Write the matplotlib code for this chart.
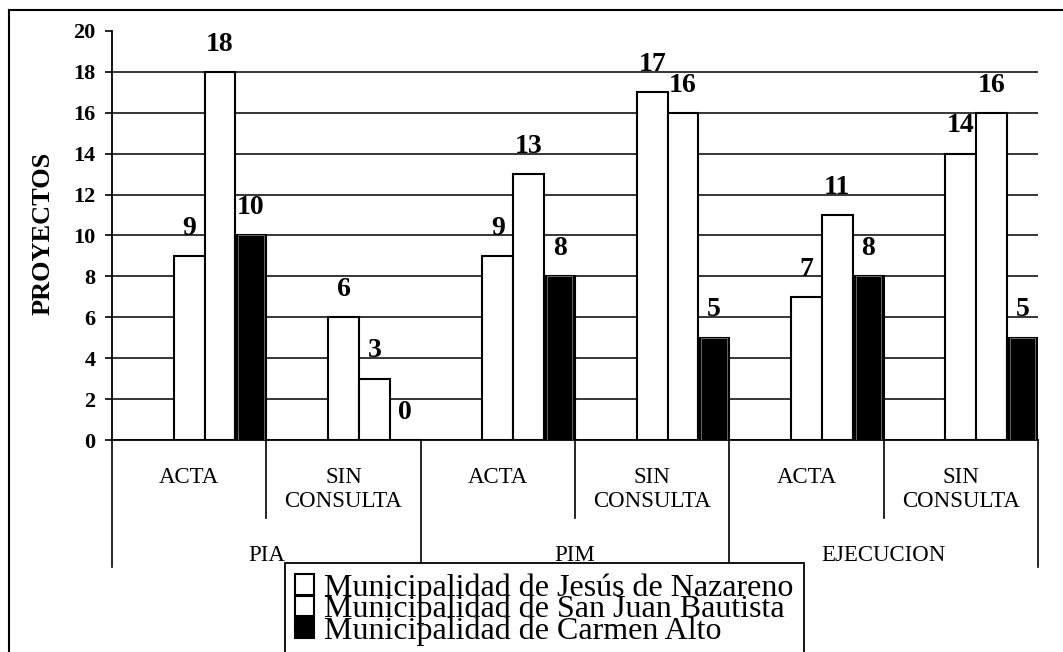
import matplotlib
matplotlib.use("Agg")
import matplotlib.pyplot as plt
import matplotlib.transforms as mtransforms
from matplotlib.lines import Line2D

plt.rcParams['font.family'] = ['Liberation Serif', 'DejaVu Serif']

# ---- data ----
groups = ["PIA", "PIM", "EJECUCION"]
subcategories = ["ACTA", "SIN\nCONSULTA", "ACTA", "SIN\nCONSULTA", "ACTA", "SIN\nCONSULTA"]
series_names = ["Municipalidad de Jesús de Nazareno",
                "Municipalidad de San Juan Bautista",
                "Municipalidad de Carmen Alto"]
jesus = [9, 6, 9, 17, 7, 14]
san_juan = [18, 3, 13, 16, 11, 16]
carmen = [10, 0, 8, 5, 8, 5]
yticks = list(range(0, 21, 2))

W, H = 1063, 652
fig = plt.figure(figsize=(W / 100, H / 100), dpi=100)
ax = fig.add_axes([112 / W, (H - 440) / H, 926 / W, 409 / H])

n = len(subcategories)
pos = list(range(n))
bw = 0.2
offsets = [0.5, 0.7, 0.9]
styles = [dict(color="white", edgecolor="black", linewidth=1.5),
          dict(color="white", edgecolor="black", linewidth=1.5),
          dict(color="black", edgecolor="black", linewidth=1.5)]
containers = []
for vals, off, st, name in zip([jesus, san_juan, carmen], offsets, styles, series_names):
    c = ax.bar([p + off for p in pos], vals, width=bw, label=name, zorder=3, **st)
    containers.append(c)
    ax.bar_label(c, padding=11, fontsize=20, fontweight="bold", zorder=4)

# inner light outline on black bars
ax.bar([p + offsets[2] for p in pos], carmen, width=bw * 0.82,
       facecolor="none", edgecolor="#777777", linewidth=0.6, zorder=3.5)

ax.set_xlim(0, n)
ax.set_ylim(0, 20)
ax.set_yticks(yticks)
ax.set_xticks([])
for t in ax.get_yticklabels():
    t.set_fontweight("bold")
ax.tick_params(axis="y", direction="out", length=5, width=1.2, pad=7, labelsize=16)
ax.yaxis.grid(True, color="black", linewidth=1.1)
ax.set_axisbelow(True)
# remove the 20 gridline
gl = ax.yaxis.get_gridlines()
gl[-1].set_visible(False)
for s in ["top", "right"]:
    ax.spines[s].set_visible(False)
ax.spines["left"].set_linewidth(1.3)
ax.spines["bottom"].set_linewidth(1.3)

ax.set_ylabel("PROYECTOS", fontsize=19, fontweight="bold")
ax.yaxis.label.set(ha="center", va="center")
ax.yaxis.set_label_coords((43 - 112) / 926, (440 - 233) / 409)

# multi-level category axis
def fy(ypx):
    return (440 - ypx) / 409

trans = mtransforms.blended_transform_factory(ax.transData, ax.transAxes)
for i, lab in enumerate(subcategories):
    ax.text(i + 0.5, fy(467), lab, transform=trans, ha="center", va="top",
            fontsize=16.5, linespacing=1.2)
for g, lab in enumerate(groups):
    ax.text(2 * g + 1, fy(545), lab, transform=trans, ha="center", va="top", fontsize=16.5)
for x in range(n + 1):
    ybot = fy(567) if x % 2 == 0 else fy(518)
    ax.plot([x, x], [0, ybot], transform=trans, color="black", linewidth=1.2, clip_on=False)

# legend
leg = fig.legend(handles=containers, labels=series_names, loc="upper left",
                 bbox_to_anchor=(285 / W, (H - 563) / H), borderaxespad=0,
                 fontsize=23, labelspacing=-0.25, handlelength=0.6, handleheight=0.6,
                 handletextpad=0.3, borderpad=0.32, fancybox=False, edgecolor="black",
                 framealpha=1)
leg.get_frame().set_linewidth(1.3)

# outer frame (partially visible)
fig.add_artist(Line2D([9 / W, 9 / W], [0, (H - 10) / H], transform=fig.transFigure,
                      color="black", linewidth=1.5))
fig.add_artist(Line2D([9 / W, 1], [(H - 10) / H, (H - 10) / H], transform=fig.transFigure,
                      color="black", linewidth=1.5))

fig.savefig("out.png", dpi=100)
